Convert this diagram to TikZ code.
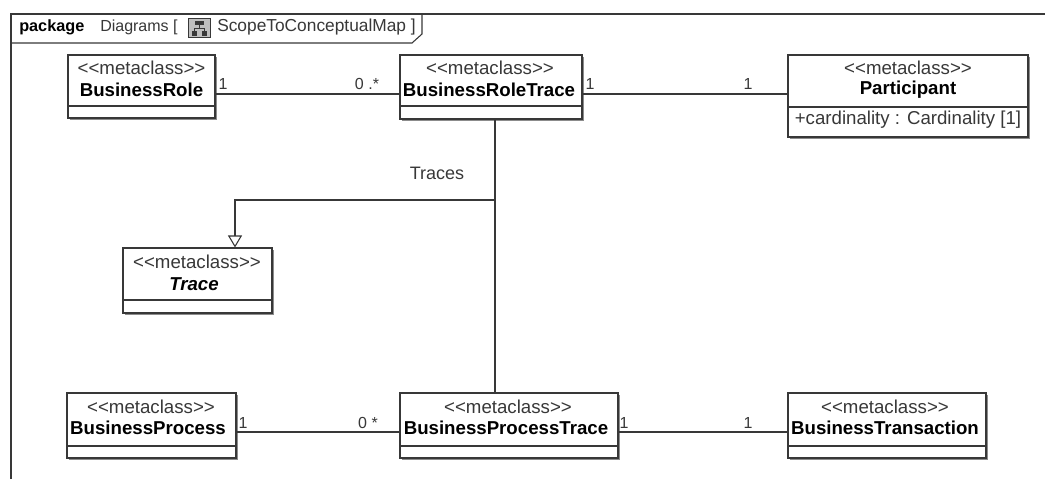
\documentclass[tikz,border=0pt]{standalone}
\usepackage{fontspec}
\setmainfont{Liberation Sans}
\usetikzlibrary{arrows.meta,shadows}
\definecolor{ink}{gray}{0.22}
\definecolor{shade}{gray}{0.55}
\tikzset{
  x=0.75pt,y=-0.75pt,
  line/.style={draw=ink,line width=0.8pt},
  umlbox/.style={draw=ink,fill=white,line width=0.8pt,inner sep=0pt,
    general shadow={fill=shade,shadow xshift=1.6pt,shadow yshift=-1.6pt}},
  stereo/.style={font=\fontsize{14}{16}\selectfont,text=ink,inner sep=0pt,anchor=center},
  cname/.style={font=\fontsize{14}{16}\selectfont\bfseries,text=black,inner sep=0pt,anchor=center},
  lbl/.style={font=\fontsize{12}{14}\selectfont,text=ink,inner sep=0pt,anchor=center},
}
\newcommand{\stt}{{<}{<}metaclass{>}{>}}
% name, left, top, right, bottom, divider
\newcommand{\umlcls}[6]{%
  \node[umlbox,minimum width={(#4-#2)*0.75pt},minimum height={(#5-#3)*0.75pt}]
    (#1) at ({(#2+#4)/2},{(#3+#5)/2}) {};
  \coordinate (#1div) at (#2,#6);
  \draw[line] (#1.west|-#1div) -- (#1.east|-#1div);
}
\begin{document}
\begin{tikzpicture}
\useasboundingbox[fill=white] (0,0) rectangle (1052,479);
% frame
\coordinate (ftl) at (11,14);
\coordinate (ftr) at (1045,14);
\coordinate (fbl) at (11,479);
\coordinate (tabl) at (11,43);
\coordinate (tabm) at (412,43);
\coordinate (tabc) at (422,34);
\coordinate (tabt) at (422,14);
\draw[line] (fbl) -- (ftl) -- (ftr);
\draw[line] (tabl) -- (tabm) -- (tabc) -- (tabt);
\node[inner sep=0pt,anchor=west,font=\fontsize{12.2}{14}\selectfont\bfseries] (pk) at (19,27) {package};
\node[inner sep=0pt,anchor=west,font=\fontsize{12}{14}\selectfont,text=ink] (dg) at (100,27) {Diagrams [};
\node[inner sep=0pt,anchor=west,font=\fontsize{13}{15}\selectfont,text=ink] (sc) at (217,27) {ScopeToConceptualMap ]};
% diagram icon
\node[draw=ink,fill=black!25,line width=0.6pt,minimum width=16pt,minimum height=14.5pt,inner sep=0pt] (ic) at (199.5,28) {};
\fill[ink] (195,21) rectangle (204,25);
\fill[ink] (192,31) rectangle (197,36);
\fill[ink] (202,31) rectangle (207,36);
\draw[ink,line width=0.5pt] (199.5,25) -- (199.5,28) (194.5,31) -- (194.5,28) -- (204.5,28) -- (204.5,31);
% classes
\umlcls{br}{68}{55}{215}{118}{106}
\umlcls{brt}{400}{55}{582}{119}{106}
\umlcls{pa}{788}{55}{1028}{137}{107}
\umlcls{tr}{123}{248}{272}{313}{300}
\umlcls{bp}{67}{393}{236}{458}{446}
\umlcls{bpt}{400}{393}{618}{458}{446}
\umlcls{bt}{788}{393}{986}{458}{446}
% class texts
\node[stereo] (br1) at (141.5,68) {\stt};
\node[cname] (br2) at (141.5,90) {BusinessRole};
\node[stereo] (brt1) at (490,68) {\stt};
\node[cname] (brt2) at (489,90) {BusinessRoleTrace};
\node[stereo] (pa1) at (908,68) {\stt};
\node[cname] (pa2) at (908,90) {Participant};
\node[lbl,font=\fontsize{14}{16}\selectfont] (pa3) at (908,120) {+cardinality : Cardinality [1]};
\node[stereo] (tr1) at (197,262) {\stt};
\node[cname,font=\fontsize{14}{16}\selectfont\bfseries\itshape] (tr2) at (194,284) {Trace};
\node[stereo] (bp1) at (151,407) {\stt};
\node[cname] (bp2) at (148,428) {BusinessProcess};
\node[stereo] (bpt1) at (508,407) {\stt};
\node[cname] (bpt2) at (506,428) {BusinessProcessTrace};
\node[stereo] (bt1) at (885,407) {\stt};
\node[cname] (bt2) at (885,428) {BusinessTransaction};
% connectors
\coordinate (r1) at (0,94);
\coordinate (r2) at (0,432);
\draw[line] (br.east|-r1) -- (brt.west|-r1);
\draw[line] (brt.east|-r1) -- (pa.west|-r1);
\draw[line] (bp.east|-r2) -- (bpt.west|-r2);
\draw[line] (bpt.east|-r2) -- (bt.west|-r2);
\coordinate (j) at (495,200);
\coordinate (g) at (235,200);
\draw[line] (j|-brt.south) -- (j);
\draw[line] (j) -- (j|-bpt.north);
\draw[line,-{Triangle[open,length=9pt,width=10.5pt,fill=white]}] (j) -- (g) -- (g|-tr.north);
% labels
\node[lbl] (m1) at (223,84) {1};
\node[lbl] (m2) at (367,84) {0 .*};
\node[lbl] (m3) at (590,84) {1};
\node[lbl] (m4) at (748,84) {1};
\node[lbl,font=\fontsize{13.5}{15}\selectfont] (tl) at (437,173) {Traces};
\node[lbl] (m5) at (243,423) {1};
\node[lbl] (m6) at (368,423) {0 *};
\node[lbl] (m7) at (624,423) {1};
\node[lbl] (m8) at (748,423) {1};
\end{tikzpicture}
\end{document}
